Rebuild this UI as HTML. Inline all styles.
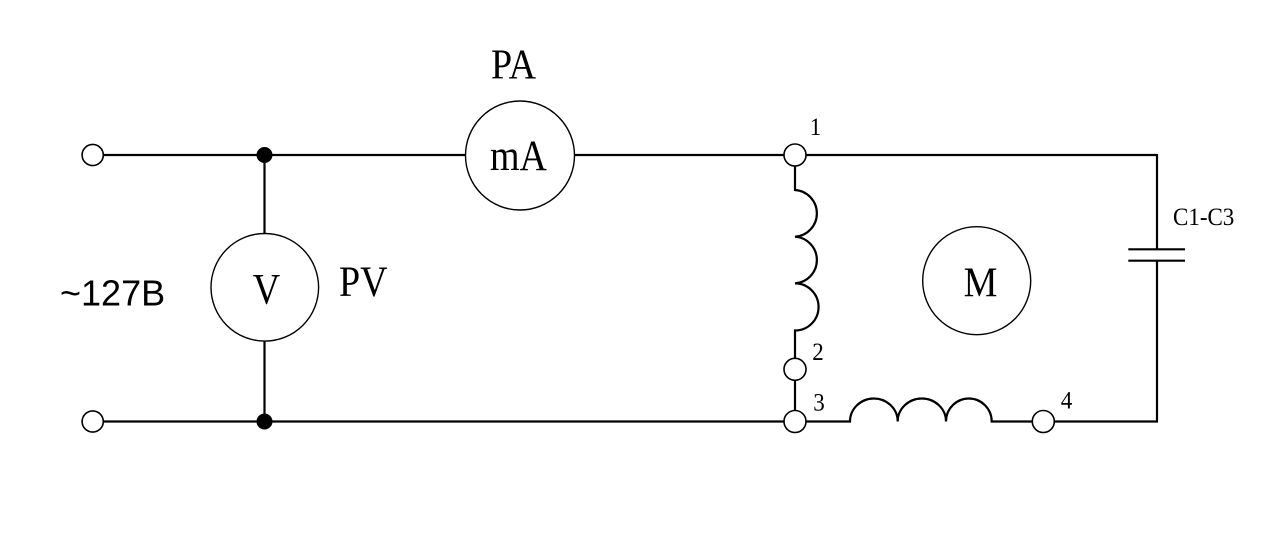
<!DOCTYPE html>
<html>
<head>
<meta charset="utf-8">
<style>
  html,body{margin:0;padding:0;background:#fff;}
  svg{display:block;}
  .serif{font-family:"Liberation Serif","DejaVu Serif",serif;fill:#000;}
  .sans{font-family:"Liberation Sans","DejaVu Sans",sans-serif;fill:#000;}
</style>
</head>
<body>
<svg width="1276" height="536" viewBox="0 0 1276 536" xmlns="http://www.w3.org/2000/svg">
  <rect width="1276" height="536" fill="#fff"/>
  <g fill="none" stroke="#000" stroke-width="2.2" stroke-linecap="butt">
    <!-- top wire -->
    <line x1="103.5" y1="155" x2="465" y2="155"/>
    <line x1="575" y1="155" x2="784" y2="155"/>
    <line x1="806" y1="155" x2="1157" y2="155"/>
    <!-- right side -->
    <line x1="1157" y1="154" x2="1157" y2="249.3"/>
    <line x1="1157" y1="260.7" x2="1157" y2="421.7"/>
    <line x1="1128.3" y1="249.3" x2="1185" y2="249.3"/>
    <line x1="1128.3" y1="260.7" x2="1185" y2="260.7"/>
    <!-- bottom wire -->
    <line x1="103.5" y1="421.5" x2="784" y2="421.5"/>
    <line x1="1054.3" y1="421.5" x2="1158" y2="421.5"/>
    <!-- voltmeter leads -->
    <line x1="264.5" y1="155" x2="264.5" y2="233.5"/>
    <line x1="264.5" y1="341" x2="264.5" y2="421.5"/>
    <!-- vertical coil 1-2 -->
    <path d="M795 166 L795 190 A23.4 23.4 0 0 1 795 236.7 A23.4 23.4 0 0 1 795 283.4 A23.4 23.4 0 0 1 795 330.5 L795 358.3"/>
    <line x1="795" y1="380.3" x2="795" y2="410.5"/>
    <!-- horizontal coil 3-4 -->
    <path d="M806 421.5 L850 421.5 A23.85 23 0 0 1 897.7 421.5 A24.15 23 0 0 1 946 421.5 A22.85 23 0 0 1 991.7 421.5 L1032.3 421.5"/>
  </g>
  <!-- terminals -->
  <g fill="#fff" stroke="#000" stroke-width="1.6">
    <circle cx="92.7" cy="155" r="10.6"/>
    <circle cx="92.7" cy="421.5" r="10.6"/>
    <circle cx="795" cy="155" r="11"/>
    <circle cx="795" cy="369.3" r="11"/>
    <circle cx="795" cy="421.5" r="11"/>
    <circle cx="1043.3" cy="421.5" r="11"/>
  </g>
  <!-- junction dots -->
  <circle cx="264.5" cy="155" r="8" fill="#000"/>
  <circle cx="264.5" cy="421.5" r="8" fill="#000"/>
  <!-- meters -->
  <g fill="none" stroke="#000" stroke-width="1.4">
    <circle cx="520" cy="155.5" r="54.5"/>
    <circle cx="264.8" cy="287.3" r="53.8"/>
    <circle cx="976.7" cy="280.7" r="54"/>
  </g>
  <!-- labels -->
  <text class="serif" font-size="38" text-anchor="middle" transform="translate(513.5,78.3) scale(1,1.1)">PA</text>
  <text class="serif" font-size="38" text-anchor="middle" transform="translate(518.5,170) scale(1,1.15)">mA</text>
  <text class="serif" font-size="38" text-anchor="middle" transform="translate(266.5,303.3) scale(1,1.15)">V</text>
  <text class="serif" font-size="38" text-anchor="start" transform="translate(339,296) scale(1,1.15)">PV</text>
  <text class="serif" font-size="38" text-anchor="middle" transform="translate(980.5,296.7) scale(1,1.1)">M</text>
  <text class="sans" font-size="36" text-anchor="start" x="60" y="305.5">~127B</text>
  <text class="serif" font-size="23" text-anchor="middle" transform="translate(815.5,135) scale(1,1.1)">1</text>
  <text class="serif" font-size="23" text-anchor="middle" transform="translate(818,360) scale(1,1.1)">2</text>
  <text class="serif" font-size="23" text-anchor="middle" transform="translate(819,410.7) scale(1,1.1)">3</text>
  <text class="serif" font-size="23" text-anchor="middle" transform="translate(1066.5,408.5) scale(1,1.1)">4</text>
  <text class="serif" font-size="23" text-anchor="start" transform="translate(1173,225) scale(1,1.08)">C1-C3</text>
</svg>
</body>
</html>
